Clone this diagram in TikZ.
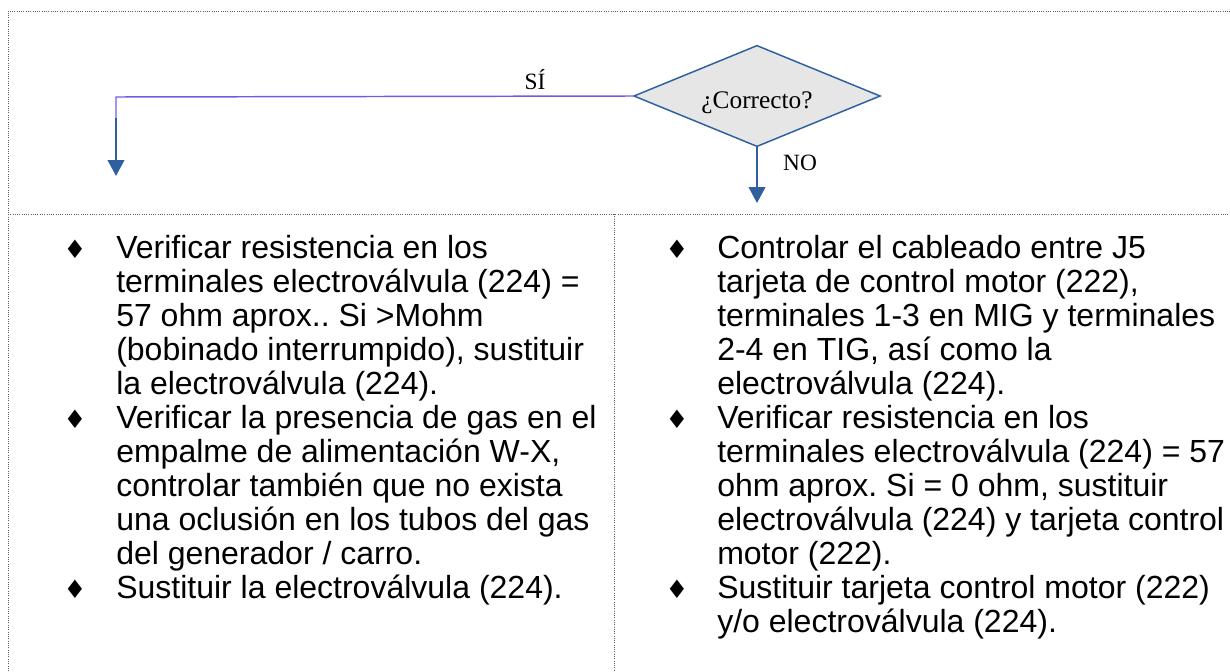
\documentclass[tikz,border=0pt]{standalone}
\usepackage{fontspec}
\setmainfont{Liberation Serif}
\newfontfamily\bodysans{Liberation Sans}
\newfontfamily\symbfont{DejaVu Sans}
\usetikzlibrary{shapes.geometric, arrows.meta, positioning}
\definecolor{flowblue}{HTML}{2F5F9F}
\definecolor{flowviolet}{HTML}{6E5CE6}
\definecolor{decgray}{HTML}{E6E6E6}
\definecolor{framegray}{HTML}{5F5F5F}
\newcommand{\diabullet}{{\symbfont\char"2666}}
\frenchspacing

\begin{document}
\begin{tikzpicture}[x=0.75pt, y=-0.75pt,
    framerule/.style={draw=framegray, line width=0.7pt, densely dotted},
    decision/.style={diamond, aspect=2.45, draw=flowblue, fill=decgray, line width=1.1pt,
        minimum width=185pt, minimum height=76pt, inner sep=0pt,
        font=\fontsize{19}{22}\selectfont},
    yesline/.style={draw=flowviolet, line width=1.1pt},
    flowarrow/.style={draw=flowblue, line width=1.5pt, -{Triangle[length=12pt, width=12.5pt]}},
    flowlabel/.style={inner sep=0pt, font=\fontsize{17.5}{20}\selectfont},
    itemtext/.style={anchor=base west, align=left, inner sep=0pt,
        font=\bodysans\fontsize{24}{25.5}\selectfont},
    itembullet/.style={inner sep=0pt, font=\fontsize{19}{19}\selectfont}]
    \useasboundingbox (0,0) rectangle (1230,671);
    \draw[framerule] (8,671) -- (8,11) -- (1230,11);
    \draw[framerule] (8,214) -- (1230,214);
    \draw[framerule] (614,214) -- (614,671);

    \node[decision] (check) at (757,96) {\raisebox{-5pt}[\height][\depth]{¿Correcto?}};
    \coordinate (siTurn) at (116,97);
    \coordinate (siMid) at (116,118);
    \coordinate (siEnd) at (116,176);
    \coordinate (noEnd) at (757,203);
    \draw[yesline] (check.west) -- (siTurn) -- (siMid);
    \draw[flowarrow] (siMid) -- (siEnd);
    \draw[flowarrow] (check.south) -- (noEnd);
    \node[flowlabel] (si) at (535,80) {SÍ};
    \node[flowlabel] (no) at (800,163) {NO};

    \node[itembullet] (bl1) at (75,249) {\diabullet};
    \node[itembullet] (bl2) at (75,419) {\diabullet};
    \node[itembullet] (bl3) at (75,589) {\diabullet};
    \node[itemtext] (tl1) at (116,394) {Verificar resistencia en los\\terminales electroválvula (224) =\\57 ohm aprox.. Si >Mohm\\(bobinado interrumpido), sustituir\\la electroválvula (224).};
    \node[itemtext] (tl2) at (116,564) {Verificar la presencia de gas en el\\empalme de alimentación W-X,\\controlar también que no exista\\una oclusión en los tubos del gas\\del generador / carro.};
    \node[itemtext] (tl3) at (116,598) {Sustituir la electroválvula (224).};

    \node[itembullet] (br1) at (677,249) {\diabullet};
    \node[itembullet] (br2) at (677,419) {\diabullet};
    \node[itembullet] (br3) at (677,589) {\diabullet};
    \node[itemtext] (tr1) at (717,394) {Controlar el cableado entre J5\\tarjeta de control motor (222),\\terminales 1-3 en MIG y terminales\\2-4 en TIG, así como la\\electroválvula (224).};
    \node[itemtext] (tr2) at (717,564) {Verificar resistencia en los\\terminales electroválvula (224) = 57\\ohm aprox. Si = 0 ohm, sustituir\\electroválvula (224) y tarjeta control\\motor (222).};
    \node[itemtext] (tr3) at (717,632) {Sustituir tarjeta control motor (222)\\y/o electroválvula (224).};
\end{tikzpicture}
\end{document}
